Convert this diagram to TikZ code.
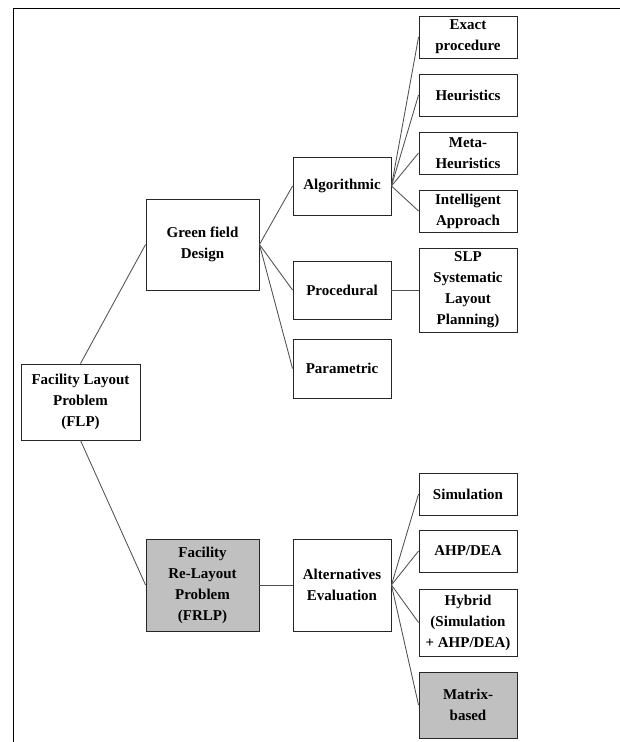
\documentclass[tikz,border=0pt]{standalone}
\usepackage{fontspec}
\setmainfont{Liberation Serif}
\definecolor{boxgray}{HTML}{C0C0C0}
\definecolor{linkgray}{HTML}{505050}
\begin{document}
\begin{tikzpicture}[x=1pt,y=-1pt,
  box/.style={draw=black!85, line width=0.9pt, fill=white, align=center, inner sep=0pt,
    font=\bfseries\fontsize{15}{21}\selectfont},
  graybox/.style={box, fill=boxgray},
  link/.style={draw=linkgray, line width=0.85pt}]
\useasboundingbox (0,0) rectangle (620,742);
\draw[line width=0.9pt, black] (13,742) coordinate (fbl) -- (13,8) coordinate (ftl) -- (620,8) coordinate (ftr);
% level 0
\node[box, minimum width=119pt, minimum height=76pt] (flp) at (80.5,402) {Facility Layout\\Problem\\(FLP)};
% level 1
\node[box, minimum width=113pt, minimum height=91pt] (green) at (202.5,244.5) {Green field\\Design};
\node[graybox, minimum width=113pt, minimum height=92pt] (frlp) at (202.5,585) {Facility\\Re-Layout\\Problem\\(FRLP)};
% level 2
\node[box, minimum width=98pt, minimum height=58pt] (alg) at (342,186) {Algorithmic};
\node[box, minimum width=98pt, minimum height=58pt] (proc) at (342,290) {Procedural};
\node[box, minimum width=98pt, minimum height=59pt] (par) at (342,368.5) {Parametric};
\node[box, minimum width=98pt, minimum height=92pt] (alt) at (342,585) {Alternatives\\Evaluation};
% level 3
\node[box, minimum width=98pt, minimum height=42pt] (ex) at (468,37) {Exact\\procedure};
\node[box, minimum width=98pt, minimum height=42pt] (heu) at (468,95) {Heuristics};
\node[box, minimum width=98pt, minimum height=42pt] (meta) at (468,153) {Meta-\\Heuristics};
\node[box, minimum width=98pt, minimum height=42pt] (int) at (468,211) {Intelligent\\Approach};
\node[box, minimum width=98pt, minimum height=84pt] (slp) at (468,290) {SLP\\Systematic\\Layout\\Planning)};
\node[box, minimum width=98pt, minimum height=42pt] (sim) at (468,494) {Simulation};
\node[box, minimum width=98pt, minimum height=42pt] (ahp) at (468,551) {AHP/DEA};
\node[box, minimum width=98pt, minimum height=67pt] (hyb) at (468,622.5) {Hybrid\\(Simulation\\+ AHP/DEA)};
\node[graybox, minimum width=98pt, minimum height=66pt] (mat) at (468,705) {Matrix-\\based};
% connectors
\draw[link] (flp.north) -- (green.west);
\draw[link] (flp.south) -- (frlp.west);
\draw[link] (green.east) -- (alg.west);
\draw[link] (green.east) -- (proc.west);
\draw[link] (green.east) -- (par.west);
\draw[link] (alg.east) -- (ex.west);
\draw[link] (alg.east) -- (heu.west);
\draw[link] (alg.east) -- (meta.west);
\draw[link] (alg.east) -- (int.west);
\draw[link] (proc.east) -- (slp.west);
\draw[link] (frlp.east) -- (alt.west);
\draw[link] (alt.east) -- (sim.west);
\draw[link] (alt.east) -- (ahp.west);
\draw[link] (alt.east) -- (hyb.west);
\draw[link] (alt.east) -- (mat.west);
\end{tikzpicture}
\end{document}
